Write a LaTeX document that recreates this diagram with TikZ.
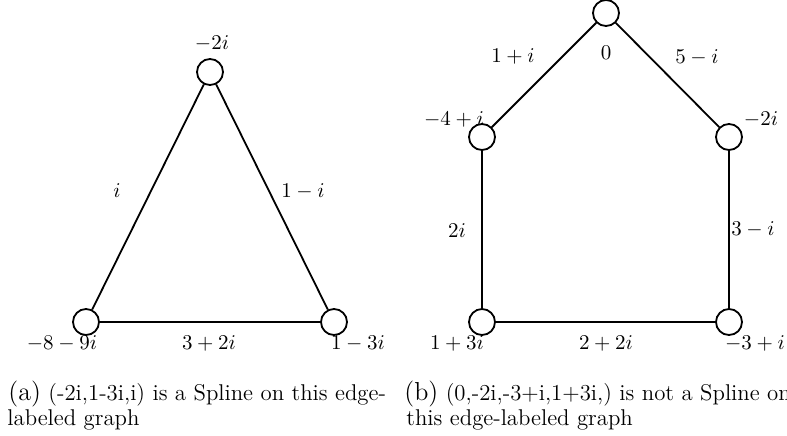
\documentclass[tikz,border=0pt]{standalone}
\newcommand{\lab}[1]{\scalebox{1.05}{$#1$}}
\begin{document}
\begin{tikzpicture}[x=0.5pt,y=-0.5pt,
  vtx/.style={circle, draw, fill=white, line width=0.9pt, minimum size=13pt, inner sep=0pt},
  edge/.style={line width=0.9pt},
  lbl/.style={inner sep=0pt},
  captxt/.style={anchor=base west, inner sep=0pt, font=\fontsize{11.4}{13}\selectfont}]
\useasboundingbox (0,0) rectangle (787,435);
\clip (0,0) rectangle (787,435);
% labels of graph (a)
\node[lbl] (la1) at (212,43) {\lab{-2i}};
\node[lbl] (la2) at (117,191) {\lab{i}};
\node[lbl] (la3) at (303,191) {\lab{1-i}};
\node[lbl] (la4) at (62,343) {\lab{-8-9i}};
\node[lbl] (la5) at (209,343) {\lab{3+2i}};
\node[lbl] (la6) at (358,343) {\lab{1-3i}};
% labels of graph (b)
\node[lbl] (lb1) at (513,56) {\lab{1+i}};
\node[lbl] (lb2) at (606,53) {\lab{0}};
\node[lbl] (lb3) at (697,57) {\lab{5-i}};
\node[lbl] (lb4) at (454,119) {\lab{-4+i}};
\node[lbl] (lb5) at (761,119) {\lab{-2i}};
\node[lbl] (lb6) at (457,231) {\lab{2i}};
\node[lbl] (lb7) at (753,229) {\lab{3-i}};
\node[lbl] (lb8) at (457,343) {\lab{1+3i}};
\node[lbl] (lb9) at (606,343) {\lab{2+2i}};
\node[lbl] (lb10) at (755,343) {\lab{-3+i}};
% graph (a)
\node[vtx] (a1) at (210,72) {};
\node[vtx] (a2) at (86,322) {};
\node[vtx] (a3) at (334,322) {};
\draw[edge] (a1) -- (a2);
\draw[edge] (a2) -- (a3);
\draw[edge] (a3) -- (a1);
% graph (b)
\node[vtx] (b1) at (606,13) {};
\node[vtx] (b2) at (482,137) {};
\node[vtx] (b3) at (729,137) {};
\node[vtx] (b4) at (482,322) {};
\node[vtx] (b5) at (729,322) {};
\draw[edge] (b1) -- (b2);
\draw[edge] (b1) -- (b3);
\draw[edge] (b2) -- (b4);
\draw[edge] (b3) -- (b5);
\draw[edge] (b4) -- (b5);
% captions
\node[captxt] (ca1) at (8,400) {{\fontsize{13}{15}\selectfont(a)} (-2i,1-3i,i) is a Spline on this edge-};
\node[captxt] (ca2) at (7,425) {labeled graph};
\node[captxt] (cb1) at (404,400) {{\fontsize{13}{15}\selectfont(b)} (0,-2i,-3+i,1+3i,) is not a Spline on};
\node[captxt] (cb2) at (406,425) {this edge-labeled graph};
\end{tikzpicture}
\end{document}
